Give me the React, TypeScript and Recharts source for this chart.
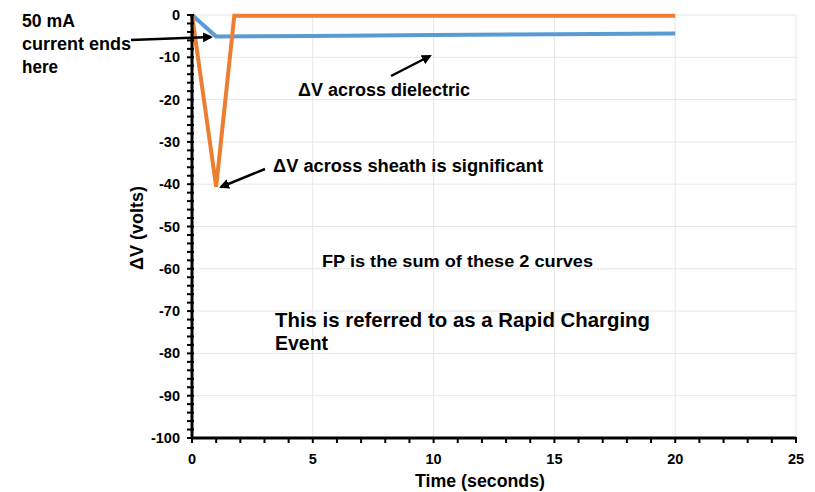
import { CartesianGrid, Line, LineChart, XAxis, YAxis } from 'recharts';

// sheath (orange) and dielectric (blue) voltage drop vs time
const SHEATH_T = [0, 1, 1.75, 5, 10, 15, 20];
const SHEATH_V = [0, -40.6, -0.2, -0.2, -0.2, -0.2, -0.2];
const DIELECTRIC_T = [0, 1, 5, 10, 15, 20];
const DIELECTRIC_V = [0, -5.1, -4.95, -4.75, -4.55, -4.35];

const X_TICKS = [0, 5, 10, 15, 20, 25];
const Y_TICKS = [-100, -90, -80, -70, -60, -50, -40, -30, -20, -10, 0];

const X_MINOR = Array.from({ length: 26 }, (_, i) => i);
const Y_MINOR = Array.from({ length: 51 }, (_, i) => -100 + i * 2);

const sheathData = SHEATH_T.map((t, i) => ({ t, v: SHEATH_V[i] }));
const dielectricData = DIELECTRIC_T.map((t, i) => ({ t, v: DIELECTRIC_V[i] }));

const FONT = '"Liberation Sans", Arial, sans-serif';

function YTick({ x, y, payload }: any) {
  const major = payload.value % 10 === 0;
  return (
    <g>
      <line x1={x - 5} x2={x + 2} y1={y} y2={y} stroke="#000" strokeWidth={2} />
      {major && (
        <text x={x - 12} y={y} dy={5} textAnchor="end" fontSize={14.5} fontWeight="bold" fontFamily={FONT} fill="#000">
          {payload.value}
        </text>
      )}
    </g>
  );
}

function XTick({ x, y, payload }: any) {
  const major = payload.value % 5 === 0;
  return (
    <g>
      <line x1={x} x2={x} y1={y - 1} y2={y + 5} stroke="#000" strokeWidth={2} />
      {major && (
        <text x={x} y={y} dy={26} textAnchor="middle" fontSize={14.5} fontWeight="bold" fontFamily={FONT} fill="#000">
          {payload.value}
        </text>
      )}
    </g>
  );
}

export default function App() {
  return (
    <div style={{ position: 'absolute', left: 0, top: 0, width: 815, height: 492, background: '#fff' }}>
      <LineChart width={815} height={492} margin={{ top: 15, right: 19, bottom: 24, left: 132 }}>
        <CartesianGrid
          stroke="#e6e6e6"
          horizontalValues={Y_TICKS}
          verticalValues={X_TICKS}
        />
        <XAxis
          type="number"
          dataKey="t"
          domain={[0, 25]}
          ticks={X_MINOR}
          interval={0}
          height={30}
          tickSize={0}
          tickMargin={0}
          tickLine={false}
          tick={<XTick />}
          axisLine={{ stroke: '#000', strokeWidth: 3 }}
        />
        <YAxis
          type="number"
          domain={[-100, 0]}
          ticks={Y_MINOR}
          interval={0}
          width={60}
          tickSize={0}
          tickMargin={0}
          tickLine={false}
          tick={<YTick />}
          axisLine={{ stroke: '#000', strokeWidth: 3 }}
        />
        <Line
          data={dielectricData}
          dataKey="v"
          stroke="#5B9BD5"
          strokeWidth={4}
          dot={false}
          isAnimationActive={false}
        />
        <Line
          data={sheathData}
          dataKey="v"
          stroke="#ED7D31"
          strokeWidth={4}
          strokeLinejoin="miter"
          dot={false}
          isAnimationActive={false}
        />
      </LineChart>
      <svg
        width={815}
        height={492}
        style={{ position: 'absolute', left: 0, top: 0, pointerEvents: 'none' }}
        fontFamily={FONT}
        fontWeight="bold"
        fill="#000"
      >
        <defs>
          <marker id="arrow" viewBox="0 0 10 10" refX="8" refY="5" markerWidth="4" markerHeight="4" orient="auto">
            <path d="M0,0 L10,5 L0,10 z" fill="#000" />
          </marker>
        </defs>
        {/* annotations; textLength squeezes the glyphs like the source image */}
        <text x={22} y={27} fontSize={18} textLength={53} lengthAdjust="spacingAndGlyphs">50 mA</text>
        <text x={22} y={50} fontSize={18} textLength={109} lengthAdjust="spacingAndGlyphs">current ends</text>
        <text x={22} y={73} fontSize={18} textLength={36} lengthAdjust="spacingAndGlyphs">here</text>
        <line x1={131} y1={40} x2={211} y2={37} stroke="#000" strokeWidth={2.5} markerEnd="url(#arrow)" />

        <text x={298} y={96} fontSize={18} textLength={172} lengthAdjust="spacingAndGlyphs">ΔV across dielectric</text>
        <line x1={391} y1={76} x2={430} y2={56} stroke="#000" strokeWidth={2.5} markerEnd="url(#arrow)" />

        <text x={273} y={172} fontSize={18} textLength={270} lengthAdjust="spacingAndGlyphs">ΔV across sheath is significant</text>
        <line x1={265} y1={169} x2={221} y2={187} stroke="#000" strokeWidth={2.5} markerEnd="url(#arrow)" />

        <text x={322} y={267} fontSize={16.5} textLength={271} lengthAdjust="spacingAndGlyphs">FP is the sum of these 2 curves</text>

        <text x={275} y={327} fontSize={20.5} textLength={375} lengthAdjust="spacingAndGlyphs">This is referred to as a Rapid Charging</text>
        <text x={275} y={350} fontSize={20.5} textLength={53} lengthAdjust="spacingAndGlyphs">Event</text>

        <text x={415} y={487} fontSize={19} textLength={130} lengthAdjust="spacingAndGlyphs">Time (seconds)</text>
        <text x={143} y={228} fontSize={18} textAnchor="middle" transform="rotate(-90 143 228)">ΔV (volts)</text>
      </svg>
    </div>
  );
}
